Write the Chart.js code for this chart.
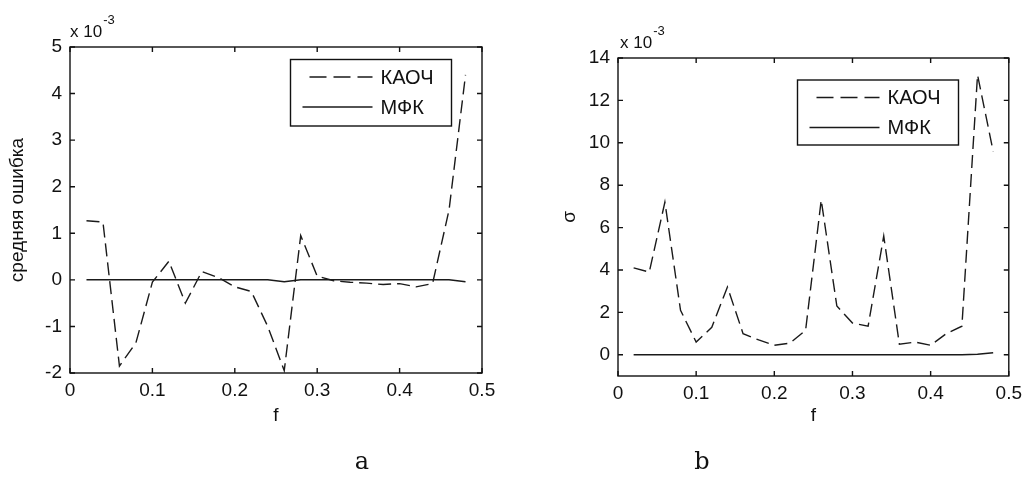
<!DOCTYPE html>
<html lang="ru">
<head>
<meta charset="UTF-8">
<title>КАОЧ / МФК</title>
<script src="https://cdn.jsdelivr.net/npm/chart.js"></script>
<style>
  body { margin: 0; background: #fff; }
  #wrap { position: relative; width: 1028px; height: 477px; }
  #wrap canvas { position: absolute; top: 0; }
  .cap { position: absolute; font-family: "DejaVu Serif", serif; font-size: 24px; color: #111; transform: translate(-50%, -50%); line-height: 28px; }
</style>
</head>
<body>
<div id="wrap">
  <canvas id="chartA" width="514" height="477" style="left:0; width:514px; height:477px"></canvas>
  <canvas id="chartB" width="514" height="477" style="left:514px; width:514px; height:477px"></canvas>
  <div class="cap" style="left:362px; top:461px">a</div>
  <div class="cap" style="left:702px; top:461px">b</div>
</div>
<script>
// frequency points (same for both panels)
const freq = [0.02, 0.04, 0.06, 0.08, 0.10, 0.12, 0.14, 0.16, 0.18, 0.20, 0.22, 0.24,
              0.26, 0.28, 0.30, 0.32, 0.34, 0.36, 0.38, 0.40, 0.42, 0.44, 0.46, 0.48];

// panel a: mean error, x 10^-3
const kaochMean = [1.27, 1.24, -1.85, -1.35, -0.05, 0.4, -0.5, 0.18, 0.05, -0.15, -0.25, -1.0,
                   -1.95, 0.95, 0.08, -0.02, -0.05, -0.07, -0.1, -0.08, -0.15, -0.08, 1.5, 4.4];
const mfkMean   = [0, 0, 0, 0, 0, 0, 0, 0, 0, 0, 0, 0,
                   -0.04, 0, 0, 0, 0, 0, 0, 0, 0, 0, 0, -0.04];

// panel b: sigma, x 10^-3
const kaochSigma = [4.1, 3.9, 7.2, 2.1, 0.6, 1.3, 3.2, 1.0, 0.7, 0.45, 0.55, 1.15,
                    7.3, 2.3, 1.5, 1.35, 5.6, 0.5, 0.6, 0.45, 1.0, 1.35, 13.2, 9.6];
const mfkSigma   = [0, 0, 0, 0, 0, 0, 0, 0, 0, 0, 0, 0,
                    0, 0, 0, 0, 0, 0, 0, 0, 0, 0, 0.03, 0.1];

const xTicks = [0, 0.1, 0.2, 0.3, 0.4, 0.5];
const yTicksA = [-2, -1, 0, 1, 2, 3, 4, 5];
const yTicksB = [0, 2, 4, 6, 8, 10, 12, 14];

Chart.defaults.font.family = '"Liberation Sans", Arial, sans-serif';
Chart.defaults.font.size = 19;
Chart.defaults.color = '#111';

// matlab-like box, inward ticks, exponent note and boxed legend
const frame = {
  id: 'frame',
  afterDraw(chart, args, opts) {
    const { ctx, chartArea: a, scales: { x, y } } = chart;
    ctx.save();
    ctx.strokeStyle = '#111';
    ctx.lineWidth = 1.4;
    ctx.strokeRect(a.left, a.top, a.right - a.left, a.bottom - a.top);
    ctx.beginPath();
    x.ticks.forEach(t => {
      const px = x.getPixelForValue(t.value);
      ctx.moveTo(px, a.bottom); ctx.lineTo(px, a.bottom - 5);
      ctx.moveTo(px, a.top); ctx.lineTo(px, a.top + 5);
    });
    y.ticks.forEach(t => {
      const py = y.getPixelForValue(t.value);
      ctx.moveTo(a.left, py); ctx.lineTo(a.left + 5, py);
      ctx.moveTo(a.right, py); ctx.lineTo(a.right - 5, py);
    });
    ctx.stroke();

    ctx.fillStyle = '#111';
    ctx.textAlign = 'left';
    ctx.textBaseline = 'alphabetic';
    ctx.font = '17px "Liberation Sans"';
    ctx.fillText('x 10', opts.exp.x, opts.exp.y);
    const w = ctx.measureText('x 10').width;
    ctx.font = '13px "Liberation Sans"';
    ctx.fillText('-3', opts.exp.x + w + 1, opts.exp.y - 13);

    const L = opts.legend;
    ctx.fillStyle = '#fff';
    ctx.fillRect(L.x, L.y, L.w, L.h);
    ctx.strokeRect(L.x, L.y, L.w, L.h);
    chart.data.datasets.forEach((ds, i) => {
      const ry = L.y + 17.5 + i * 30;
      ctx.strokeStyle = ds.borderColor;
      ctx.lineWidth = ds.borderWidth;
      ctx.setLineDash(ds.borderDash.length ? [17, 7] : []);
      ctx.lineDashOffset = ds.borderDash.length ? -7 : 0;
      ctx.beginPath();
      ctx.moveTo(L.x + 12, ry); ctx.lineTo(L.x + 82, ry);
      ctx.stroke();
      ctx.setLineDash([]);
      ctx.fillStyle = '#111';
      ctx.font = '20px "Liberation Sans"';
      ctx.textBaseline = 'middle';
      ctx.fillText(ds.label, L.x + 90, ry + 1);
    });
    ctx.restore();
  }
};

function makeChart(id, kaoch, mfk, yTicks, yMin, yMax, yTitle, p) {
  new Chart(document.getElementById(id), {
    type: 'line',
    data: {
      datasets: [
        { label: 'КАОЧ', data: freq.map((f, i) => ({ x: f, y: kaoch[i] })),
          borderColor: '#1a1a1a', borderWidth: 1.4, borderDash: [13, 6], pointRadius: 0, tension: 0 },
        { label: 'МФК', data: freq.map((f, i) => ({ x: f, y: mfk[i] })),
          borderColor: '#1a1a1a', borderWidth: 1.5, borderDash: [], pointRadius: 0, tension: 0 }
      ]
    },
    options: {
      responsive: false,
      animation: false,
      locale: 'en-US',
      layout: { padding: p.pad },
      plugins: {
        legend: { display: false },
        tooltip: { enabled: false },
        frame: { exp: p.exp, legend: p.legend }
      },
      scales: {
        x: {
          type: 'linear', min: 0, max: 0.5,
          grid: { display: false, drawTicks: false, tickLength: 0 },
          border: { display: false },
          afterBuildTicks: s => { s.ticks = xTicks.map(v => ({ value: v })); },
          afterFit: s => { s.height = p.xHeight; },
          ticks: { padding: 6, autoSkip: false, maxRotation: 0, callback: v => String(v) },
          title: { display: true, text: 'f', padding: { top: 0, bottom: 0 } }
        },
        y: {
          type: 'linear', min: yMin, max: yMax,
          grid: { display: false, drawTicks: false, tickLength: 0 },
          border: { display: false },
          afterBuildTicks: s => { s.ticks = yTicks.map(v => ({ value: v })); },
          afterFit: s => { s.width = p.yWidth; },
          ticks: { padding: 8, autoSkip: false, callback: v => String(v) },
          title: { display: true, text: yTitle, padding: { top: p.yTitlePad, bottom: 0 } }
        }
      }
    },
    plugins: [frame]
  });
}

makeChart('chartA', kaochMean, mfkMean, yTicksA, -2, 5, 'средняя ошибка', {
  pad: { left: 0, right: 32, top: 47, bottom: 50 },
  xHeight: 54, yWidth: 70, yTitlePad: 6,
  exp: { x: 70, y: 37 },
  legend: { x: 290.5, y: 59.5, w: 161, h: 66.5 }
});

makeChart('chartB', kaochSigma, mfkSigma, yTicksB, -1, 14, 'σ', {
  pad: { left: 0, right: 15, top: 58, bottom: 50 },
  xHeight: 51, yWidth: 104, yTitlePad: 44.5,
  exp: { x: 106, y: 48 },
  legend: { x: 283.5, y: 80, w: 161, h: 65 }
});
</script>
</body>
</html>
